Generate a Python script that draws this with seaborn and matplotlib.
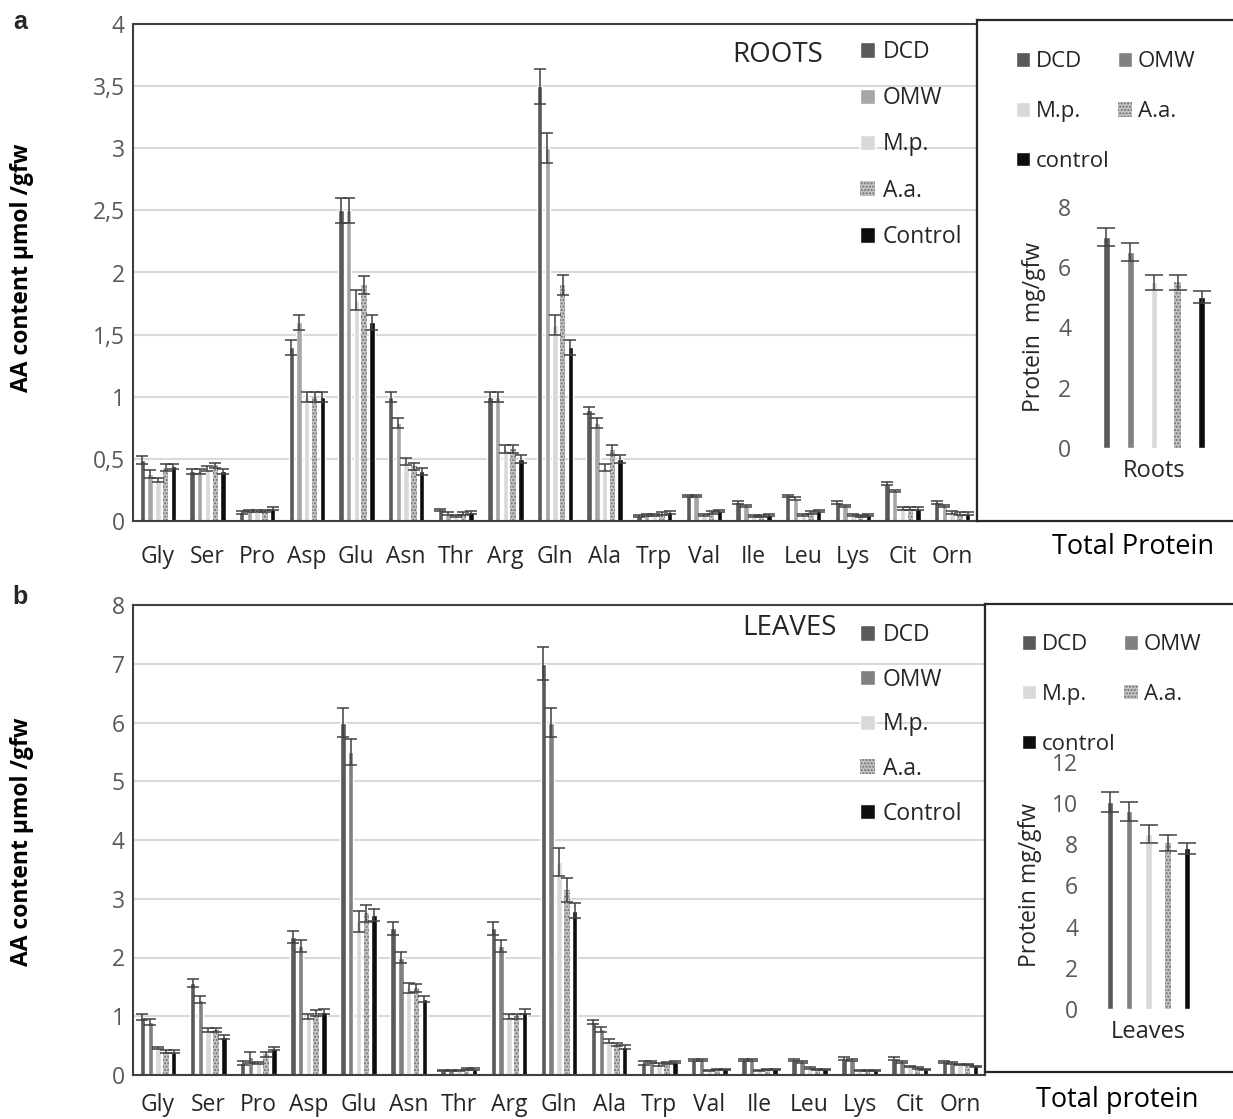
import numpy as np
import pandas as pd
import seaborn as sns
import matplotlib.pyplot as plt
from matplotlib.ticker import FuncFormatter, MultipleLocator

amino = ['Gly', 'Ser', 'Pro', 'Asp', 'Glu', 'Asn', 'Thr', 'Arg', 'Gln', 'Ala',
         'Trp', 'Val', 'Ile', 'Leu', 'Lys', 'Cit', 'Orn']
treatments = ['DCD', 'OMW', 'M.p.', 'A.a.', 'Control']

# panel a, roots (umol/gfw)
roots_dcd  = [0.49, 0.40, 0.07, 1.40, 2.50, 1.00, 0.09, 1.00, 3.50, 0.89, 0.04, 0.20, 0.15, 0.20, 0.15, 0.30, 0.15]
roots_omw  = [0.38, 0.40, 0.08, 1.60, 2.50, 0.79, 0.06, 1.00, 3.00, 0.79, 0.05, 0.20, 0.12, 0.18, 0.12, 0.24, 0.12]
roots_mp   = [0.33, 0.42, 0.08, 1.00, 1.78, 0.48, 0.04, 0.58, 1.58, 0.43, 0.05, 0.05, 0.04, 0.05, 0.05, 0.10, 0.07]
roots_aa   = [0.43, 0.45, 0.08, 1.00, 1.90, 0.44, 0.06, 0.58, 1.90, 0.57, 0.06, 0.07, 0.04, 0.07, 0.04, 0.10, 0.06]
roots_ctrl = [0.44, 0.40, 0.10, 1.00, 1.60, 0.40, 0.07, 0.50, 1.40, 0.50, 0.07, 0.08, 0.05, 0.08, 0.05, 0.10, 0.06]
roots_dcd_err  = [0.03, 0.02, 0.01, 0.06, 0.10, 0.04, 0.01, 0.04, 0.14, 0.03, 0.01, 0.01, 0.01, 0.01, 0.01, 0.01, 0.01]
roots_omw_err  = [0.03, 0.02, 0.01, 0.06, 0.10, 0.04, 0.01, 0.04, 0.12, 0.04, 0.01, 0.01, 0.01, 0.01, 0.01, 0.01, 0.01]
roots_mp_err   = [0.02, 0.02, 0.01, 0.04, 0.08, 0.03, 0.01, 0.03, 0.08, 0.03, 0.01, 0.01, 0.01, 0.01, 0.01, 0.01, 0.01]
roots_aa_err   = [0.03, 0.02, 0.01, 0.04, 0.07, 0.03, 0.01, 0.03, 0.08, 0.04, 0.01, 0.01, 0.01, 0.01, 0.01, 0.01, 0.01]
roots_ctrl_err = [0.02, 0.02, 0.01, 0.04, 0.06, 0.03, 0.01, 0.03, 0.06, 0.03, 0.01, 0.01, 0.01, 0.01, 0.01, 0.01, 0.01]

# panel b, leaves (umol/gfw)
leaves_dcd  = [0.99, 1.57, 0.20, 2.35, 6.00, 2.50, 0.08, 2.50, 7.00, 0.90, 0.20, 0.26, 0.26, 0.25, 0.28, 0.28, 0.22]
leaves_omw  = [0.90, 1.28, 0.30, 2.20, 5.50, 2.00, 0.08, 2.20, 6.00, 0.78, 0.22, 0.25, 0.25, 0.22, 0.25, 0.22, 0.20]
leaves_mp   = [0.46, 0.77, 0.20, 1.00, 2.62, 1.48, 0.08, 1.00, 3.62, 0.58, 0.18, 0.08, 0.08, 0.12, 0.08, 0.15, 0.18]
leaves_aa   = [0.40, 0.77, 0.35, 1.05, 2.75, 1.48, 0.10, 1.00, 3.15, 0.52, 0.20, 0.10, 0.10, 0.10, 0.08, 0.12, 0.18]
leaves_ctrl = [0.40, 0.65, 0.45, 1.08, 2.72, 1.29, 0.10, 1.08, 2.80, 0.48, 0.22, 0.10, 0.10, 0.10, 0.08, 0.10, 0.15]
leaves_dcd_err  = [0.05, 0.07, 0.03, 0.10, 0.24, 0.11, 0.01, 0.11, 0.28, 0.04, 0.03, 0.02, 0.02, 0.02, 0.02, 0.02, 0.02]
leaves_omw_err  = [0.05, 0.06, 0.10, 0.10, 0.22, 0.09, 0.01, 0.10, 0.25, 0.04, 0.02, 0.02, 0.02, 0.02, 0.02, 0.02, 0.02]
leaves_mp_err   = [0.02, 0.03, 0.02, 0.04, 0.18, 0.09, 0.01, 0.04, 0.24, 0.03, 0.02, 0.01, 0.01, 0.01, 0.01, 0.01, 0.01]
leaves_aa_err   = [0.02, 0.03, 0.05, 0.05, 0.14, 0.07, 0.02, 0.04, 0.20, 0.03, 0.02, 0.01, 0.01, 0.01, 0.01, 0.01, 0.01]
leaves_ctrl_err = [0.02, 0.03, 0.03, 0.05, 0.10, 0.05, 0.02, 0.05, 0.12, 0.03, 0.02, 0.01, 0.01, 0.01, 0.01, 0.01, 0.01]

# total protein (mg/gfw)
prot_roots      = [7.0, 6.5, 5.5, 5.5, 5.0]
prot_roots_err  = [0.3, 0.3, 0.25, 0.25, 0.2]
prot_leaves     = [10.05, 9.6, 8.5, 8.05, 7.8]
prot_leaves_err = [0.5, 0.47, 0.42, 0.38, 0.25]

sns.set_style("white")
plt.rcParams['font.family'] = ['Open Sans', 'DejaVu Sans']

W, H = 1233, 1119
fig = plt.figure(figsize=(W / 100, H / 100), dpi=100)


def rect(l, t, r, b):
    return [l / W, 1 - b / H, (r - l) / W, (b - t) / H]


def fpos(x, y):
    return (x / W, 1 - y / H)


pal_roots = ['#595959', '#a6a6a6', '#d9d9d9', '#c4c4c4', '#0d0d0d']
pal_other = ['#595959', '#808080', '#d9d9d9', '#c4c4c4', '#0d0d0d']
comma = FuncFormatter(lambda v, p: f'{v:g}'.replace('.', ','))


def texture(ax):
    # A.a. bars carry a speckled fill
    for b in ax.containers[3]:
        b.set_hatch('.....')
        b.set_edgecolor('#707070')
        b.set_linewidth(0)


def add_err(ax, errs, capsize):
    for cont, e in zip(ax.containers, errs):
        xs = [b.get_x() + b.get_width() / 2 for b in cont]
        ys = [b.get_height() for b in cont]
        ax.errorbar(xs, ys, yerr=e, fmt='none', ecolor='#404040',
                    elinewidth=1.1, capsize=capsize, capthick=1.1, zorder=3)


def main_panel(box, vals, errs, pal, ymax, step, title, tpos, legpos, xpad, lspace):
    ax = fig.add_axes(rect(*box))
    df = pd.DataFrame({'aa': np.tile(amino, len(treatments)),
                       'treatment': np.repeat(treatments, len(amino)),
                       'value': np.concatenate(vals)})
    sns.barplot(data=df, x='aa', y='value', hue='treatment', order=amino,
                hue_order=treatments, palette=pal, width=0.78, gap=0.3,
                errorbar=None, legend=False, ax=ax)
    texture(ax)
    add_err(ax, errs, 4.5)
    ax.set_xlim(-0.5, len(amino) - 0.5)
    ax.set_ylim(0, ymax)
    ax.yaxis.set_major_locator(MultipleLocator(step))
    ax.yaxis.set_major_formatter(comma)
    ax.grid(axis='y', color='#d9d9d9', lw=1.5)
    ax.set_axisbelow(True)
    for s in ax.spines.values():
        s.set_color('#404040')
        s.set_linewidth(1.5)
    ax.tick_params(axis='x', length=0, pad=xpad, labelsize=16.5, labelcolor='#262626')
    ax.tick_params(axis='y', length=0, pad=6, labelsize=16.5, labelcolor='#595959')
    ax.set_xlabel('')
    ax.set_ylabel('')
    ax.text(*tpos, title, transform=fig.transFigure, ha='center', va='center',
            fontsize=20, color='#262626')
    ax.legend(ax.containers, treatments, loc='upper left',
              bbox_to_anchor=fpos(*legpos), bbox_transform=fig.transFigure,
              frameon=False, fontsize=16.5, handlelength=0.65, handleheight=0.65,
              handletextpad=0.35, labelspacing=lspace, borderpad=0, borderaxespad=0)
    return ax


def protein_panel(frame, box, vals, errs, ymax, step, tick, ylab, ylabpos,
                  legpos, gap, total, totpos):
    fr = fig.add_axes(rect(*frame))
    fr.set_xticks([])
    fr.set_yticks([])
    for s in fr.spines.values():
        s.set_color('#262626')
        s.set_linewidth(1.6)
    ax = fig.add_axes(rect(*box))
    ax.patch.set_alpha(0)
    df = pd.DataFrame({'tissue': [tick] * len(treatments),
                       'treatment': treatments, 'value': vals})
    sns.barplot(data=df, x='tissue', y='value', hue='treatment',
                hue_order=treatments, palette=pal_other, width=0.9, gap=gap,
                errorbar=None, legend=False, ax=ax)
    texture(ax)
    add_err(ax, [[e] for e in errs], 6.5)
    ax.set_xlim(-0.5, 0.5)
    ax.set_ylim(0, ymax)
    ax.yaxis.set_major_locator(MultipleLocator(step))
    sns.despine(ax=ax, left=True, bottom=True)
    ax.tick_params(axis='x', length=0, pad=8, labelsize=17, labelcolor='#262626')
    ax.tick_params(axis='y', length=0, pad=12, labelsize=16.5, labelcolor='#595959')
    ax.set_xlabel('')
    ax.set_ylabel('')
    fig.text(*fpos(*ylabpos), ylab, rotation=90, ha='center', va='center',
             fontsize=16.5, color='#262626')
    c = ax.containers
    labels = ['DCD', 'OMW', 'M.p.', 'A.a.', 'control']
    order = [0, 2, 4, 1, 3]
    ax.legend([c[i] for i in order], [labels[i] for i in order], ncol=2,
              loc='upper left', bbox_to_anchor=fpos(*legpos),
              bbox_transform=fig.transFigure, frameon=False, fontsize=16,
              handlelength=0.65, handleheight=0.65, handletextpad=0.25,
              labelspacing=1.3, columnspacing=0.35, borderpad=0, borderaxespad=0)
    fig.text(*fpos(*totpos), total, ha='center', va='center', fontsize=19.5,
             color='#000000')
    return ax


main_panel((133, 24, 977, 521),
           [roots_dcd, roots_omw, roots_mp, roots_aa, roots_ctrl],
           [roots_dcd_err, roots_omw_err, roots_mp_err, roots_aa_err, roots_ctrl_err],
           pal_roots, 4, 0.5, 'ROOTS', fpos(778, 55), (860, 40), 17, 0.97)
main_panel((133, 605, 985, 1075),
           [leaves_dcd, leaves_omw, leaves_mp, leaves_aa, leaves_ctrl],
           [leaves_dcd_err, leaves_omw_err, leaves_mp_err, leaves_aa_err, leaves_ctrl_err],
           pal_other, 8, 1, 'LEAVES', fpos(789, 628), (860, 623), 13, 0.9)

protein_panel((977, 20, 1245, 521), (1088, 207, 1220, 448), prot_roots,
              prot_roots_err, 8, 2, 'Roots', 'Protein  mg/gfw', (1034, 327),
              (1016, 51), 0.72, 'Total Protein', (1133, 547))
protein_panel((985, 604, 1245, 1072), (1095, 762, 1202, 1009), prot_leaves,
              prot_leaves_err, 12, 2, 'Leaves', 'Protein mg/gfw', (1030, 885),
              (1022, 634), 0.68, 'Total protein', (1117, 1100))

for y, lab in [(22, 'a'), (597, 'b')]:
    fig.text(*fpos(20, y), lab, ha='center', va='center', fontsize=18,
             fontweight='bold', family=['Liberation Sans', 'DejaVu Sans'])
for y in [268, 842]:
    fig.text(*fpos(22, y), 'AA content µmol /gfw', rotation=90, ha='center',
             va='center', fontsize=16.5, fontweight='bold', color='#000000')

fig.savefig('out.png', dpi=100)
